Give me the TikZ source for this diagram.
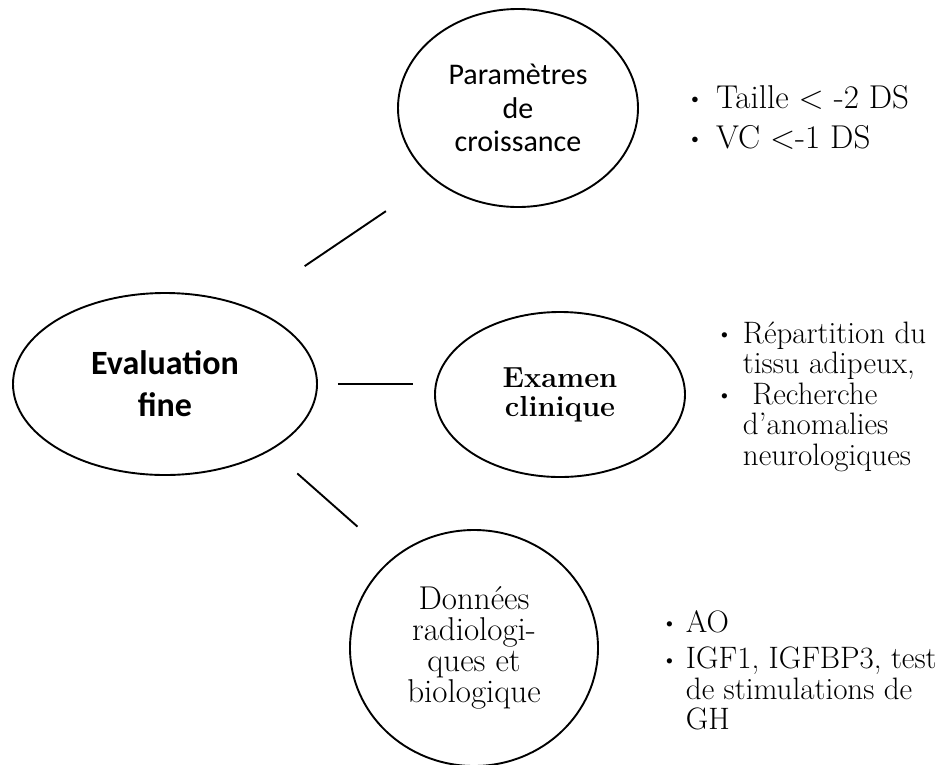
\documentclass[tikz,border=0pt]{standalone}
\usepackage{fontspec}
\usepackage{graphicx}
\usetikzlibrary{shapes.geometric}
\newfontfamily\carlito{Carlito}
\newcommand{\puce}{\raisebox{0.12ex}{\scalebox{0.75}{\textbullet}}}

\begin{document}
\begin{tikzpicture}[x=1pt, y=-1pt,
  bulle/.style={draw, ellipse, line width=1.9pt, inner sep=0pt, align=center},
  liste/.style={anchor=base west, inner sep=0pt},
  lien/.style={line width=1.9pt}]
  \clip (0,0) rectangle (942,764);
  % Ellipses
  \node[bulle, minimum width=304pt, minimum height=182pt,
    font=\carlito\bfseries\fontsize{34}{42}\selectfont] (eval) at (165,384) {Evaluation\\fine};
  \node[bulle, minimum width=240pt, minimum height=198pt,
    font=\carlito\fontsize{30}{33.5}\selectfont] (param) at (518,108) {Paramètres\\de\\croissance};
  \node[bulle, minimum width=250pt, minimum height=165pt,
    font=\bfseries\fontsize{29}{29}\selectfont] (exam) at (560,394.5) {Examen\\clinique};
  \node[bulle, minimum width=248pt, minimum height=236pt,
    font=\fontsize{33}{31}\selectfont] (don) at (474,648) {Données\\radiologi-\\ques et\\biologique};
  % Liens
  \draw[lien, shorten <=71pt, shorten >=57pt] (eval.44) -- (param.220);
  \draw[lien, shorten <=20pt, shorten >=21pt] (eval.east) -- (eval.east -| exam.west);
  \draw[lien, shorten <=35pt, shorten >=47pt] (eval.328) -- (don.132);
  % Listes
  \node[liste, font=\fontsize{33}{40}\selectfont] (lparam) at (686,108)
    {\begin{tabular}[t]{@{}l@{\hspace{12pt}}l@{}}
      \puce & Taille < -2 DS\\
      \puce & VC <-1 DS
    \end{tabular}};
  \node[liste, font=\fontsize{31}{30}\selectfont] (lexam) at (716,343)
    {\begin{tabular}[t]{@{}l@{\hspace{10pt}}l@{}}
      \puce & Répartition du\\
            & tissu adipeux,\\
      \puce & \ Recherche\\
            & d'anomalies\\
            & neurologiques
    \end{tabular}};
  \node[liste, font=\fontsize{31}{30}\selectfont] (ldon) at (661,632)
    {\begin{tabular}[t]{@{}l@{\hspace{8pt}}l@{}}
      \puce & AO\\[6pt]
      \puce & IGF1, IGFBP3, test\\
            & de stimulations de\\
            & GH
    \end{tabular}};
\end{tikzpicture}
\end{document}
